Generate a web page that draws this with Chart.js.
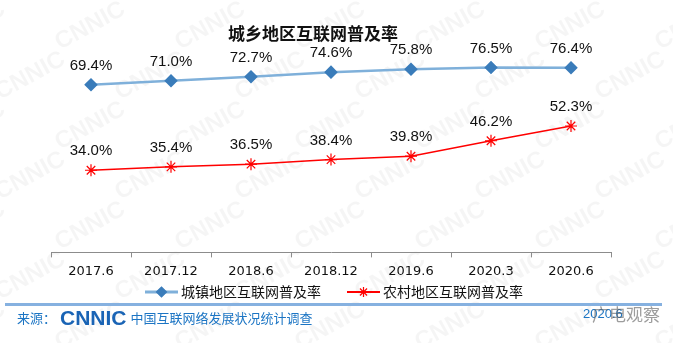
<!DOCTYPE html>
<html>
<head>
<meta charset="utf-8">
<script src="https://cdn.jsdelivr.net/npm/chart.js@4"></script>
<style>
  body { margin: 0; background: #fff; }
  #wrap { position: relative; width: 673px; height: 343px; overflow: hidden; font-family: "Liberation Sans", "Noto Sans CJK SC", sans-serif; }
  #chart { position: absolute; left: 0; top: 0; }
  #title { position: absolute; left: 213px; top: 20px; width: 200px; text-align: center; font: bold 17px "Noto Sans CJK SC", sans-serif; color: #111; }
  #rule { position: absolute; left: 5px; top: 303px; width: 657px; height: 3px; background: #86b1e0; }
  #source { position: absolute; left: 17px; top: 306px; font: 13px "Noto Sans CJK SC", sans-serif; color: #1c75c4; white-space: nowrap; }
  #source b { font: bold 21px "Liberation Sans", sans-serif; letter-spacing: 0px; color: #1a64b5; vertical-align: -2px; margin: 0 4px; }
  #date { position: absolute; left: 583px; top: 306px; font: 13px "Liberation Sans", sans-serif; color: #1c75c4; }
  #mark { position: absolute; left: 592px; top: 301px; font: 17px "Noto Sans CJK SC", sans-serif; color: rgba(90,90,90,0.6); }
</style>
</head>
<body>
<div id="wrap">
  <canvas id="chart" width="673" height="343"></canvas>
  <div id="title">城乡地区互联网普及率</div>
  <div id="rule"></div>
  <div id="source">来源：<b>CNNIC</b>中国互联网络发展状况统计调查</div>
  <div id="date">2020.6</div>
  <div id="mark">广电观察</div>
</div>
<script>
// categories and values
const periods = ['2017.6', '2017.12', '2018.6', '2018.12', '2019.6', '2020.3', '2020.6'];
const urbanRate = [69.4, 71.0, 72.7, 74.6, 75.8, 76.5, 76.4];
const ruralRate = [34.0, 35.4, 36.5, 38.4, 39.8, 46.2, 52.3];
const seriesNames = ['城镇地区互联网普及率', '农村地区互联网普及率'];

const urbanLine = '#7fb0da';
const urbanDot = '#3a7cba';
const ruralLine = '#ff0000';

// faint CNNIC watermark behind everything
const watermark = {
    id: 'watermark',
    beforeDraw(chart) {
        const c = chart.ctx;
        c.save();
        c.fillStyle = 'rgba(0,0,0,0.04)';
        c.font = 'bold 24px "Liberation Sans", sans-serif';
        for (let row = -1; row < 9; row++) {
            for (let col = -1; col < 7; col++) {
                const x = col * 120 + (row % 2) * 60;
                const y = row * 50;
                c.save();
                c.translate(x, y);
                c.rotate(-0.5);
                c.fillText('CNNIC', 0, 0);
                c.restore();
            }
        }
        c.restore();
    }
};

// value labels above the points
const valueLabels = {
    id: 'valueLabels',
    afterDatasetsDraw(chart) {
        const c = chart.ctx;
        c.save();
        c.font = '15px "Liberation Sans", sans-serif';
        c.fillStyle = '#111';
        c.textAlign = 'center';
        c.textBaseline = 'middle';
        chart.data.datasets.forEach((ds, i) => {
            chart.getDatasetMeta(i).data.forEach((pt, j) => {
                c.fillText(ds.data[j].toFixed(1) + '%', pt.x, pt.y - 19);
            });
        });
        c.restore();
    }
};

// legend with line + marker, like the original
const lineLegend = {
    id: 'lineLegend',
    afterDraw(chart) {
        const c = chart.ctx;
        const y = 292;
        const items = [
            { x: 145, color: urbanLine, dot: urbanDot, style: 'rectRot', w: 3 },
            { x: 347, color: ruralLine, dot: ruralLine, style: 'star', w: 2 }
        ];
        c.save();
        items.forEach((it, i) => {
            c.strokeStyle = it.color;
            c.lineWidth = it.w;
            c.beginPath();
            c.moveTo(it.x, y);
            c.lineTo(it.x + 33, y);
            c.stroke();
            c.fillStyle = it.dot;
            c.strokeStyle = it.dot;
            c.lineWidth = 1.2;
            Chart.helpers.drawPoint(c, { pointStyle: it.style, radius: 5, borderWidth: 1.2 }, it.x + 16.5, y);
            c.fillStyle = '#111';
            c.font = '14px "Noto Sans CJK SC", sans-serif';
            c.textBaseline = 'middle';
            c.fillText(seriesNames[i], it.x + 36, y);
        });
        c.restore();
    }
};

new Chart(document.getElementById('chart'), {
    type: 'line',
    data: {
        labels: periods,
        datasets: [{
            label: seriesNames[0],
            data: urbanRate,
            borderColor: urbanLine,
            borderWidth: 2.5,
            pointStyle: 'rectRot',
            pointRadius: 5,
            pointBackgroundColor: urbanDot,
            pointBorderColor: urbanDot,
            tension: 0
        }, {
            label: seriesNames[1],
            data: ruralRate,
            borderColor: ruralLine,
            borderWidth: 1.5,
            pointStyle: 'star',
            pointRadius: 6,
            pointBorderWidth: 1.2,
            pointBorderColor: ruralLine,
            pointBackgroundColor: ruralLine,
            tension: 0
        }]
    },
    options: {
        responsive: false,
        animation: false,
        layout: { padding: { left: 51, right: 62, top: 47, bottom: 58 } },
        plugins: {
            legend: { display: false },
            tooltip: { enabled: false }
        },
        scales: {
            x: {
                offset: true,
                border: { color: '#8c8c8c', width: 1 },
                grid: { offset: true, drawOnChartArea: false, tickLength: 5, color: '#8c8c8c' },
                ticks: { color: '#111', font: { size: 13, family: '"DejaVu Sans", sans-serif' }, padding: 6, maxRotation: 0 }
            },
            y: { display: false, min: 0, max: 85 }
        }
    },
    plugins: [watermark, valueLabels, lineLegend]
});
</script>
</body>
</html>
